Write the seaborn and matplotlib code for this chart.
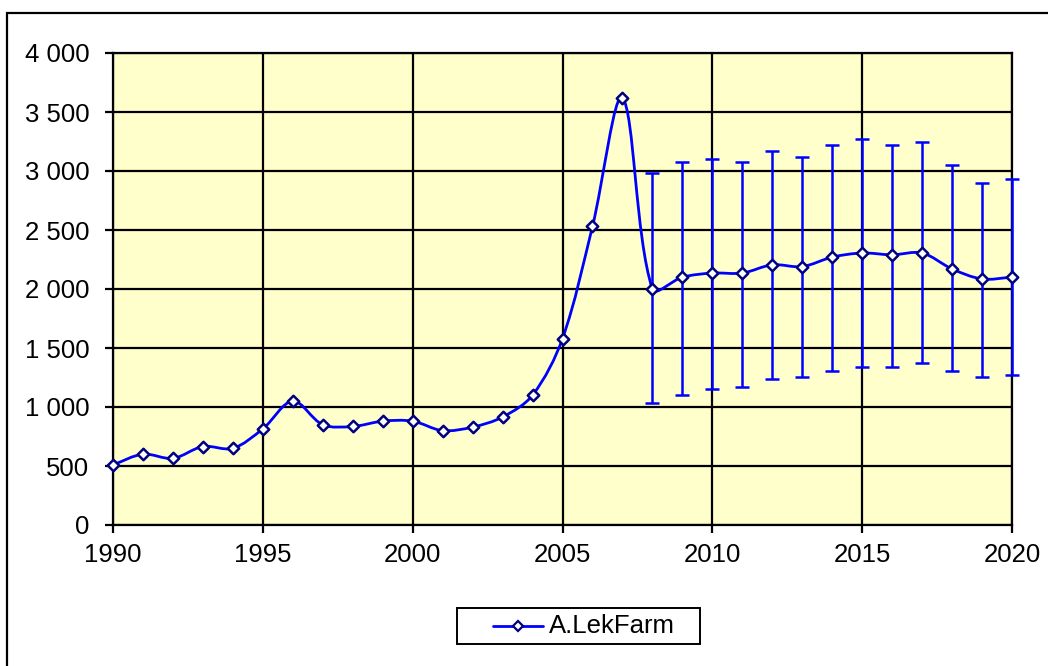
import numpy as np
import matplotlib
matplotlib.use("Agg")
import matplotlib.pyplot as plt
import seaborn as sns
from matplotlib.path import Path
from matplotlib.patches import PathPatch, Rectangle
from matplotlib.lines import Line2D

# данные
years = list(range(1990, 2021))
values = [510, 600, 565, 665, 650, 815, 1050, 850, 835, 880, 880, 800,
          830, 915, 1100, 1580, 2530, 3620,
          2000, 2100, 2135, 2135, 2205, 2190, 2270, 2305, 2290, 2305, 2170, 2085, 2100]
err_years = list(range(2008, 2021))
err_low = [1035, 1100, 1155, 1170, 1240, 1255, 1305, 1340, 1340, 1370, 1305, 1255, 1270]
err_high = [2985, 3080, 3100, 3080, 3170, 3115, 3220, 3270, 3220, 3250, 3050, 2900, 2930]
series_name = "A.LekFarm"

LINE = "#0000FF"
EDGE = "#000080"
BG = "#FFFFCC"


def smooth_path(x, y, sx=30.0, sy=0.118):
    """Сглаженная линия как в Excel: кривые Безье, плечи по длинам отрезков (в пикселях)."""
    x = np.asarray(x, float)
    y = np.asarray(y, float)
    n = len(x)
    d = np.hypot(np.diff(x) * sx, np.diff(y) * sy)
    fwd, bwd = [], []
    for i in range(n):
        ip, inn = max(i - 1, 0), min(i + 1, n - 1)
        t = np.array([x[inn] - x[ip], y[inn] - y[ip]])
        dp = d[i - 1] if i > 0 else 0.0
        dn = d[i] if i < n - 1 else 0.0
        tot = dp + dn
        fwd.append(t * (dn / tot) / 3)
        bwd.append(t * (dp / tot) / 3)
    verts = [(x[0], y[0])]
    codes = [Path.MOVETO]
    for i in range(n - 1):
        c1 = (x[i] + fwd[i][0], y[i] + fwd[i][1])
        c2 = (x[i + 1] - bwd[i + 1][0], y[i + 1] - bwd[i + 1][1])
        verts += [c1, c2, (x[i + 1], y[i + 1])]
        codes += [Path.CURVE4] * 3
    return Path(verts, codes)


sns.set_theme(style="ticks")
plt.rcParams["font.family"] = ["Liberation Sans", "DejaVu Sans"]

W, H = 1048, 666
fig = plt.figure(figsize=(W / 100, H / 100), dpi=100)
ax = fig.add_axes([113 / W, 1 - 525 / H, (1012 - 113) / W, (525 - 53) / H])
ax.set_facecolor(BG)

# линия
ax.add_patch(PathPatch(smooth_path(years, values), fill=False, edgecolor=LINE, lw=2.0, zorder=3))

# планки погрешностей
mid = np.array(values[-len(err_years):])
eb = ax.errorbar(err_years, mid, yerr=[mid - np.array(err_low), np.array(err_high) - mid],
                 fmt="none", ecolor=LINE, elinewidth=1.8, capsize=5, capthick=1.8, zorder=4)
for c in eb.lines[1]:
    c.set_clip_on(False)
for c in eb.lines[2]:
    c.set_clip_on(False)

# маркеры
sns.scatterplot(x=years, y=values, marker="D", s=34, color="white",
                edgecolor=EDGE, linewidth=1.8, zorder=5, clip_on=False, ax=ax)

ax.set_xlim(1990, 2020)
ax.set_ylim(0, 4000)
ax.set_xticks(range(1990, 2021, 5))
ax.set_yticks(range(0, 4001, 500))
ax.set_yticklabels([f"{v:,}".replace(",", " ") for v in range(0, 4001, 500)])
ax.grid(True, color="black", lw=1.6)
ax.set_axisbelow(True)
for s in ax.spines.values():
    s.set_color("black")
    s.set_linewidth(1.6)
ax.tick_params(axis="both", direction="out", length=6, width=1.6, color="black",
               labelsize=18.5, labelcolor="black")
ax.tick_params(axis="x", pad=7)
ax.tick_params(axis="y", pad=11)

# рамка диаграммы
fig.patches.append(Rectangle((7 / W, -0.1), 1.2, 1 - 13 / H + 0.1, transform=fig.transFigure,
                             fill=False, edgecolor="black", lw=1.6))

# легенда
x0, x1, y0, y1 = 457, 700, 608, 644
fig.patches.append(Rectangle((x0 / W, 1 - y1 / H), (x1 - x0) / W, (y1 - y0) / H,
                             transform=fig.transFigure, fill=False, edgecolor="black", lw=1.4))
yc = 1 - 626 / H
fig.lines.append(Line2D([493 / W, 543 / W], [yc, yc], transform=fig.transFigure,
                        color=LINE, lw=2.0))
fig.lines.append(Line2D([518 / W], [yc], transform=fig.transFigure, marker="D", ms=5,
                        mfc="white", mec=EDGE, mew=1.6, linestyle="none"))
fig.text(549 / W, yc, series_name, fontsize=18.5, va="center", ha="left", color="black")

fig.savefig("out.png", dpi=100, facecolor="white")
